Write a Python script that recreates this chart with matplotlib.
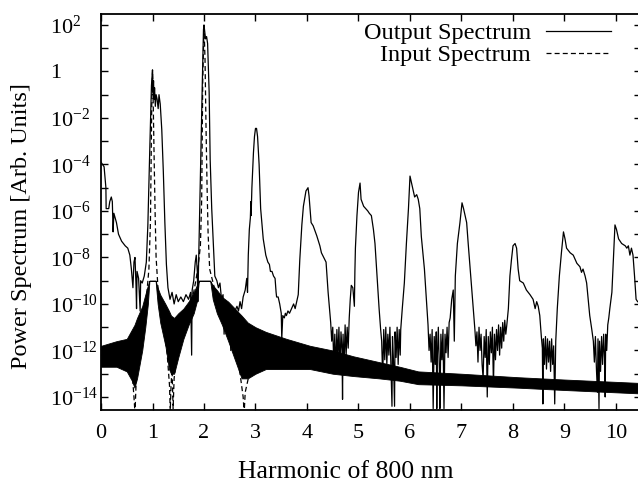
import numpy as np
import matplotlib
matplotlib.use("Agg")
import matplotlib.pyplot as plt
from matplotlib.lines import Line2D
from matplotlib.ticker import NullFormatter

plt.rcParams['font.family'] = ['Liberation Serif', 'DejaVu Serif']
plt.rcParams['mathtext.fontset'] = 'custom'
plt.rcParams['mathtext.rm'] = 'Liberation Serif'
plt.rcParams['mathtext.it'] = 'Liberation Serif:italic'
plt.rcParams['mathtext.bf'] = 'Liberation Serif:bold'

# output spectrum (harmonic, log10 power)
out_x = [0.00, 0.03, 0.06, 0.08, 0.095, 0.10, 0.15, 0.17, 0.20, 0.22, 0.235, 0.25, 0.30, 0.34, 0.40,
         0.47, 0.52, 0.56, 0.59, 0.62, 0.64, 0.66, 0.68, 0.69, 0.70, 0.73, 0.76, 0.77, 0.80, 0.84,
         0.88, 0.91, 0.93, 0.95, 0.97, 0.98, 1.00, 1.01, 1.02, 1.03, 1.04, 1.055, 1.07, 1.09, 1.11,
         1.126, 1.15, 1.18, 1.21, 1.24, 1.27, 1.30, 1.34, 1.38, 1.42, 1.46, 1.50, 1.55, 1.60, 1.65,
         1.70, 1.74, 1.76, 1.77, 1.80, 1.83, 1.85, 1.87, 1.88, 1.89, 1.91, 1.94, 1.97, 1.99, 2.00,
         2.03, 2.05, 2.07, 2.10, 2.12, 2.15, 2.18, 2.21, 2.25, 2.28, 2.31, 2.34, 2.37, 2.39, 2.41,
         2.44, 2.46, 2.50, 2.52, 2.55, 2.60, 2.64, 2.67, 2.70, 2.73, 2.76, 2.80, 2.83, 2.845, 2.86,
         2.88, 2.90, 2.91, 2.915, 2.93, 2.96, 2.98, 3.00, 3.02, 3.04, 3.07, 3.10, 3.15, 3.20, 3.24,
         3.27, 3.29, 3.32, 3.35, 3.38, 3.40, 3.41, 3.44, 3.47, 3.50, 3.51, 3.53, 3.56, 3.58, 3.60,
         3.63, 3.66, 3.70, 3.74, 3.77, 3.80, 3.83, 3.86, 3.90, 3.93, 3.98, 4.02, 4.04, 4.08, 4.12,
         4.19, 4.25, 4.28, 4.31, 4.37, 4.41, 4.46, 4.48, 4.50, 4.52, 4.54, 4.56, 4.58, 4.60, 4.62,
         4.64, 4.66, 4.68, 4.69, 4.70, 4.72, 4.74, 4.76, 4.78, 4.80, 4.82, 4.84, 4.86, 4.89, 4.92,
         4.93, 4.94, 4.97, 5.00, 5.03, 5.05, 5.10, 5.14, 5.18, 5.21, 5.25, 5.29, 5.32, 5.36, 5.40,
         5.43, 5.45, 5.47, 5.49, 5.51, 5.53, 5.55, 5.57, 5.59, 5.61, 5.63, 5.65, 5.66, 5.68, 5.70,
         5.71, 5.73, 5.75, 5.77, 5.79, 5.81, 5.82, 5.85, 5.89, 5.93, 5.97, 6.00, 6.03, 6.07, 6.09,
         6.13, 6.16, 6.19, 6.22, 6.28, 6.32, 6.35, 6.37, 6.39, 6.41, 6.43, 6.45, 6.47, 6.49, 6.51,
         6.52, 6.53, 6.55, 6.57, 6.58, 6.60, 6.62, 6.64, 6.66, 6.68, 6.70, 6.72, 6.74, 6.76, 6.78,
         6.81, 6.84, 6.86, 6.88, 6.92, 6.97, 7.01, 7.04, 7.07, 7.10, 7.13, 7.18, 7.23, 7.26, 7.28,
         7.30, 7.32, 7.34, 7.36, 7.38, 7.40, 7.42, 7.44, 7.46, 7.48, 7.50, 7.52, 7.54, 7.56, 7.58,
         7.60, 7.62, 7.64, 7.66, 7.68, 7.70, 7.72, 7.74, 7.76, 7.78, 7.80, 7.82, 7.84, 7.86, 7.88,
         7.91, 7.94, 7.97, 8.00, 8.04, 8.07, 8.10, 8.13, 8.20, 8.26, 8.33, 8.39, 8.43, 8.46, 8.49,
         8.52, 8.55, 8.57, 8.58, 8.59, 8.61, 8.63, 8.65, 8.67, 8.69, 8.71, 8.73, 8.75, 8.77, 8.79,
         8.81, 8.83, 8.86, 8.90, 8.94, 8.98, 9.01, 9.04, 9.11, 9.17, 9.24, 9.30, 9.33, 9.36, 9.40,
         9.43, 9.46, 9.49, 9.53, 9.56, 9.58, 9.60, 9.62, 9.64, 9.65, 9.67, 9.68, 9.70, 9.72, 9.74,
         9.76, 9.78, 9.79, 9.80, 9.82, 9.84, 9.86, 9.88, 9.92, 9.95, 9.98, 10.01, 10.05, 10.11, 10.18,
         10.21, 10.24, 10.27, 10.30, 10.33, 10.36, 10.39, 10.42, 10.49]
out_lg = [-3.9, -4.0, -4.1, -4.6, -5.0, -5.9, -5.9, -5.6, -5.4, -5.6, -6.9, -6.1, -6.5, -7.0, -7.3,
          -7.5, -7.6, -7.9, -8.5, -9.3, -8.2, -8.0, -9.2, -10.2, -8.6, -8.9, -10.3, -9.0, -9.1, -8.8,
          -8.2, -6.6, -4.8, -3.1, -1.5, -0.6, 0.07, -0.9, -0.4, -1.2, -0.7, -1.5, -1.0, -1.2, -1.6,
          -1.0, -1.4, -2.5, -4.3, -6.5, -8.3, -9.3, -9.8, -9.5, -10.0, -9.6, -9.9, -9.7, -9.9, -9.6,
          -9.8, -9.5, -12.2, -9.4, -9.0, -8.2, -7.9, -8.6, -9.9, -8.8, -6.6, -3.1, -0.2, 1.8, 2.0,
          1.4, 1.5, 1.2, -0.9, -3.8, -5.9, -7.4, -8.8, -9.0, -9.3, -9.1, -9.8, -9.6, -11.3, -10.0,
          -11.1, -10.2, -10.5, -12.0, -10.4, -10.3, -10.1, -10.3, -9.9, -10.2, -9.7, -9.4, -8.9, -9.5, -7.9,
          -6.8, -6.3, -5.6, -6.2, -5.0, -3.5, -2.8, -2.45, -2.45, -2.8, -4.0, -5.9, -7.2, -7.9, -8.2,
          -8.3, -8.6, -8.6, -8.8, -8.9, -9.5, -9.7, -9.7, -10.0, -10.4, -11.5, -10.5, -10.6, -10.4, -10.5,
          -10.3, -10.4, -10.2, -10.0, -10.2, -9.9, -9.6, -8.1, -6.6, -5.8, -5.14, -5.0, -5.36, -6.5, -6.64,
          -7.07, -7.5, -7.8, -7.93, -8.2, -9.5, -10.8, -11.6, -11.0, -12.6, -11.3, -12.9, -11.1, -12.4, -11.0,
          -12.8, -11.2, -12.0, -14.1, -11.3, -12.7, -10.9, -12.2, -11.0, -11.9, -10.6, -9.8, -9.2, -9.3, -10.1,
          -8.6, -7.6, -6.2, -5.2, -4.8, -5.5, -5.8, -5.9, -6.0, -6.1, -6.2, -6.8, -7.4, -8.8, -10.2,
          -11.1, -11.6, -13.2, -11.1, -12.4, -11.0, -12.6, -11.3, -12.2, -11.0, -12.7, -14.4, -11.4, -12.5, -14.4,
          -11.2, -12.3, -11.0, -12.6, -11.1, -12.2, -11.1, -10.2, -9.1, -7.4, -5.9, -4.5, -4.8, -5.2, -5.4,
          -5.3, -5.5, -5.9, -7.1, -8.5, -9.9, -10.9, -12.0, -11.3, -12.5, -11.1, -14.5, -11.4, -12.6, -11.2,
          -14.5, -12.3, -11.0, -12.8, -14.5, -11.3, -12.4, -11.1, -14.5, -11.3, -12.1, -11.0, -12.3, -10.8, -10.6,
          -9.8, -9.4, -11.6, -8.8, -7.4, -6.5, -5.65, -5.9, -6.2, -6.5, -7.4, -8.8, -10.2, -11.1, -11.8,
          -11.2, -12.5, -11.0, -12.0, -11.3, -12.6, -13.2, -11.4, -12.3, -11.1, -14.0, -11.4, -12.6, -11.2, -12.1,
          -11.0, -13.5, -11.3, -12.4, -11.1, -12.0, -10.9, -12.2, -11.0, -11.9, -10.8, -11.6, -10.7, -11.3, -10.9,
          -10.2, -8.8, -8.1, -7.5, -7.4, -7.6, -8.5, -9.0, -9.1, -9.4, -9.6, -9.8, -10.2, -9.9, -10.1,
          -10.5, -11.4, -11.9, -14.3, -11.5, -12.6, -11.4, -12.8, -11.5, -12.5, -11.6, -12.9, -11.5, -12.6, -11.8,
          -14.3, -11.6, -10.2, -8.8, -7.8, -6.9, -7.2, -7.6, -7.8, -7.9, -8.25, -8.4, -8.64, -8.5, -8.8,
          -9.1, -9.8, -10.5, -11.1, -11.6, -12.5, -11.4, -12.8, -13.8, -11.5, -14.5, -11.6, -12.9, -11.4, -12.6,
          -11.3, -12.4, -14.0, -11.3, -12.0, -10.9, -10.6, -10.2, -9.5, -8.1, -6.6, -6.8, -7.2, -7.4, -7.5,
          -7.6, -7.5, -7.9, -7.6, -7.9, -8.8, -9.8, -9.9, -10.0]

# input spectrum (dashed), peaks at 1 and 2 plus the floor
in_x = [0.00, 0.30, 0.50, 0.60, 0.64, 0.66, 0.68, 0.72, 0.80, 0.88, 0.93, 0.96, 0.975, 0.985, 1.00,
        1.015, 1.03, 1.05, 1.07, 1.12, 1.20, 1.28, 1.33, 1.345, 1.36, 1.38, 1.40, 1.42, 1.50, 1.60,
        1.70, 1.80, 1.88, 1.93, 1.955, 1.965, 1.975, 1.99, 2.00, 2.02, 2.04, 2.06, 2.08, 2.11, 2.20,
        2.35, 2.50, 2.60, 2.70, 2.76, 2.78, 2.80, 2.90, 3.00, 3.50, 4.00, 5.00, 6.00, 7.00, 8.00,
        9.00, 10.50]
in_lg = [-12.2, -12.2, -12.3, -12.8, -14.0, -14.7, -13.5, -12.0, -11.0, -9.8, -8.5, -6.5, -3.5, -1.5, 0.05,
         -1.5, -3.5, -6.0, -8.0, -9.8, -10.8, -12.0, -13.5, -14.6, -13.5, -12.8, -14.5, -13.2, -11.5, -10.8,
         -10.2, -9.5, -8.5, -7.5, -5.5, -3.0, -0.5, 1.0, 1.95, 0.5, -2.5, -5.0, -7.0, -8.5, -9.3,
         -10.2, -11.0, -11.8, -13.0, -14.0, -14.7, -13.8, -12.8, -12.3, -12.2, -12.3, -12.7, -13.1, -13.25, -13.4,
         -13.5, -13.6]

# dense fringe band under both curves (upper / lower edge)
band_x = [0.0, 0.3, 0.5, 0.6, 0.65, 0.7, 0.8, 0.86, 0.91, 0.94, 1.06, 1.1, 1.15, 1.25, 1.32,
          1.36, 1.42, 1.5, 1.6, 1.7, 1.8, 1.86, 1.9, 2.12, 2.17, 2.25, 2.35, 2.47, 2.6, 2.73,
          2.85, 3.0, 3.2, 3.6, 4.06, 4.5, 4.9, 5.4, 5.8, 6.16, 7.0, 8.1, 9.0, 10.5]
band_top = [-11.8, -11.6, -11.5, -11.1, -10.9, -10.6, -10.1, -9.6, -9.2, -9.0, -9.0, -9.3, -9.6, -10.0, -10.3,
            -10.5, -10.6, -10.4, -10.2, -9.9, -9.5, -9.2, -9.0, -9.0, -9.2, -9.4, -9.7, -9.9, -10.2, -10.5,
            -10.8, -11.0, -11.2, -11.5, -11.8, -12.0, -12.25, -12.5, -12.7, -12.9, -13.0, -13.15, -13.25, -13.4]
band_bot = [-12.7, -12.7, -12.9, -13.3, -13.6, -13.2, -12.0, -11.0, -10.0, -9.0, -9.0, -10.0, -10.8, -11.8, -12.8,
            -13.0, -13.0, -12.3, -11.5, -10.9, -10.4, -9.9, -9.0, -9.0, -9.8, -10.4, -10.9, -11.6, -12.4, -13.2,
            -13.2, -13.0, -12.8, -12.8, -12.8, -13.0, -13.1, -13.2, -13.3, -13.45, -13.5, -13.6, -13.7, -13.85]

ytick_vals = [1e2, 1, 1e-2, 1e-4, 1e-6, 1e-8, 1e-10, 1e-12, 1e-14]
ytick_labels = ['$10^{2}$', '1', '$10^{-2}$', '$10^{-4}$', '$10^{-6}$', '$10^{-8}$',
                '$10^{-10}$', '$10^{-12}$', '$10^{-14}$']
ytick_minor = [1e1, 1e-1, 1e-3, 1e-5, 1e-7, 1e-9, 1e-11, 1e-13]
xtick_vals = list(range(0, 11))

fig = plt.figure(figsize=(6.38, 4.83), dpi=100)
ax = fig.add_axes([101/638, 73/483, 540/638, 396/483])

ax.fill_between(band_x, 10**np.array(band_bot), 10**np.array(band_top),
                color='black', lw=0.6)
ax.plot(in_x, 10**np.array(in_lg), color='black', lw=0.9, ls=(0, (4, 2.5)))
ax.plot(out_x, 10**np.array(out_lg), color='black', lw=0.9)

ax.set_yscale('log')
ax.set_xlim(0, 540/51.5)
ax.set_ylim(10**(-14.56), 10**2.47)

ax.set_xticks(xtick_vals)
ax.set_xticklabels([str(v) for v in xtick_vals])
ax.set_yticks(ytick_vals)
ax.set_yticklabels(ytick_labels)
ax.set_yticks(ytick_minor, minor=True)
ax.yaxis.set_minor_formatter(NullFormatter())
ax.tick_params(which='both', direction='in', top=True, right=True, length=5, width=1.0,
               labelsize=16)
ax.tick_params(axis='x', pad=10)
ax.tick_params(axis='y', pad=37)
for lbl in ax.get_yticklabels():
    lbl.set_horizontalalignment('left')
for sp in ax.spines.values():
    sp.set_linewidth(1.3)

fig.text(346/638, 1 - 478/483, 'Harmonic of 800 nm', ha='center', va='baseline', fontsize=18.5)
fig.text(22/638, 1 - 226/483, 'Power Spectrum [Arb. Units]', ha='center', va='center',
         rotation=90, fontsize=17.5)

handles = [Line2D([], [], color='black', lw=0.9),
           Line2D([], [], color='black', lw=0.9, ls=(0, (4, 2.5)))]
ax.legend(handles, ['Output Spectrum', 'Input Spectrum'], loc='upper right',
          bbox_to_anchor=(611/638, 1 - 22/483), bbox_transform=fig.transFigure,
          frameon=False, markerfirst=False, fontsize=17.5, handlelength=2.67,
          handletextpad=0.62, labelspacing=0.0, borderpad=0, borderaxespad=0)

fig.savefig('out.png', dpi=100)
